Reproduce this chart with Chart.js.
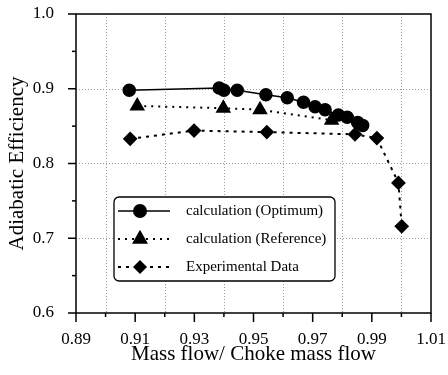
<!DOCTYPE html>
<html lang="en">
<head>
    <meta charset="UTF-8">
    <title>Adiabatic Efficiency</title>
    <script src="https://cdn.jsdelivr.net/npm/chart.js"></script>
    <style>
        body { margin: 0; background: #ffffff; }
        #chartContainer { width: 448px; height: 375px; }
    </style>
</head>
<body>
    <div id="chartContainer">
        <canvas id="myChart"></canvas>
    </div>

    <script>
        // data
        const optX = [0.908, 0.9384, 0.940, 0.9445, 0.9542, 0.9614, 0.9669, 0.9708, 0.9742, 0.9787, 0.9817, 0.9852, 0.9869];
        const optY = [0.898, 0.901, 0.898, 0.898, 0.892, 0.888, 0.882, 0.876, 0.872, 0.865, 0.862, 0.855, 0.851];
        const refX = [0.9107, 0.9398, 0.9522, 0.9764];
        const refY = [0.877, 0.874, 0.872, 0.858];
        const expX = [0.9083, 0.9299, 0.9545, 0.9843, 0.9917, 0.999, 1.0001];
        const expY = [0.833, 0.844, 0.842, 0.839, 0.834, 0.774, 0.716];
        const seriesNames = ['calculation (Optimum)', 'calculation (Reference)', 'Experimental Data'];
        const xTitle = 'Mass flow/ Choke mass flow';
        const yTitle = 'Adiabatic Efficiency';

        const serif = 'Liberation Serif';
        const pts = (xs, ys) => xs.map((x, i) => ({ x: x, y: ys[i] }));

        // grid, tick marks, frame and legend box
        const decor = {
            id: 'decor',
            beforeDatasetsDraw(chart) {
                const { ctx, chartArea: a, scales: { x, y } } = chart;
                ctx.save();
                ctx.strokeStyle = '#9a9a9a';
                ctx.lineWidth = 1;
                ctx.setLineDash([1, 2]);
                for (let v = 90; v <= 100; v += 2) {
                    const px = Math.round(x.getPixelForValue(v / 100)) + 0.5;
                    ctx.beginPath(); ctx.moveTo(px, a.top); ctx.lineTo(px, a.bottom); ctx.stroke();
                }
                for (let v = 7; v <= 9; v++) {
                    const py = Math.round(y.getPixelForValue(v / 10)) + 0.5;
                    ctx.beginPath(); ctx.moveTo(a.left, py); ctx.lineTo(a.right, py); ctx.stroke();
                }
                ctx.restore();
            },
            afterDraw(chart) {
                const { ctx, chartArea: a, scales: { x, y } } = chart;
                ctx.save();
                ctx.strokeStyle = '#000';
                ctx.lineWidth = 1.5;
                ctx.strokeRect(a.left, a.top, a.right - a.left, a.bottom - a.top);
                // x ticks
                for (let v = 89; v <= 101; v++) {
                    const px = x.getPixelForValue(v / 100);
                    const len = v % 2 === 1 ? 9 : 4;
                    ctx.beginPath(); ctx.moveTo(px, a.bottom); ctx.lineTo(px, a.bottom + len); ctx.stroke();
                }
                // y ticks
                for (let v = 60; v <= 100; v += 5) {
                    const py = y.getPixelForValue(v / 100);
                    const len = v % 10 === 0 ? 8 : 4;
                    ctx.beginPath(); ctx.moveTo(a.left, py); ctx.lineTo(a.left - len, py); ctx.stroke();
                }

                // legend
                const bx = a.left + 38, by = a.top + 183;
                const bw = 221, bh = 84;
                ctx.fillStyle = '#fff';
                ctx.lineWidth = 1.3;
                ctx.beginPath();
                ctx.roundRect(bx, by, bw, bh, 5);
                ctx.fill(); ctx.stroke();
                ctx.font = '15px "' + serif + '"';
                ctx.textBaseline = 'middle';
                chart.data.datasets.forEach((ds, i) => {
                    const ry = by + 14 + i * 28;
                    ctx.strokeStyle = '#000';
                    ctx.lineWidth = ds.borderWidth;
                    ctx.setLineDash(ds.borderDash || []);
                    ctx.beginPath(); ctx.moveTo(bx + 4, ry); ctx.lineTo(bx + 56, ry); ctx.stroke();
                    ctx.setLineDash([]);
                    drawMarker(ctx, ds.pointStyle, bx + 26, ry, ds.pointRadius + 1);
                    ctx.fillStyle = '#000';
                    ctx.fillText(ds.label, bx + 72, ry);
                });
                ctx.restore();
            }
        };

        function drawMarker(ctx, style, cx, cy, r) {
            ctx.fillStyle = '#000';
            ctx.beginPath();
            if (style === 'circle') {
                ctx.arc(cx, cy, r, 0, Math.PI * 2);
            } else if (style === 'triangle') {
                ctx.moveTo(cx, cy - r * 1.15);
                ctx.lineTo(cx + r, cy + r * 0.6);
                ctx.lineTo(cx - r, cy + r * 0.6);
                ctx.closePath();
            } else {
                ctx.moveTo(cx, cy - r); ctx.lineTo(cx + r, cy);
                ctx.lineTo(cx, cy + r); ctx.lineTo(cx - r, cy);
                ctx.closePath();
            }
            ctx.fill();
        }

        const noPad = (s) => { s.paddingTop = 0; s.paddingBottom = 0; s.paddingLeft = 0; s.paddingRight = 0; };

        const ctx = document.getElementById('myChart').getContext('2d');
        let myChart = new Chart(ctx, {
            type: 'scatter',
            data: {
                datasets: [{
                    label: seriesNames[0],
                    data: pts(optX, optY),
                    showLine: true,
                    borderColor: '#000',
                    backgroundColor: '#000',
                    borderWidth: 1.5,
                    pointStyle: 'circle',
                    pointRadius: 6,
                    tension: 0
                }, {
                    label: seriesNames[1],
                    data: pts(refX, refY),
                    showLine: true,
                    borderColor: '#000',
                    backgroundColor: '#000',
                    borderWidth: 2,
                    borderDash: [2, 5],
                    pointStyle: 'triangle',
                    pointRadius: 7,
                    tension: 0
                }, {
                    label: seriesNames[2],
                    data: pts(expX, expY),
                    showLine: true,
                    borderColor: '#000',
                    backgroundColor: '#000',
                    borderWidth: 2,
                    borderDash: [3, 5],
                    pointStyle: 'rectRot',
                    pointRadius: 6,
                    tension: 0
                }]
            },
            options: {
                responsive: true,
                maintainAspectRatio: false,
                animation: false,
                layout: { padding: { top: 14, right: 17, left: 0, bottom: 0 } },
                plugins: { legend: { display: false }, tooltip: { enabled: false } },
                scales: {
                    x: {
                        type: 'linear',
                        min: 0.89,
                        max: 1.01,
                        grid: { display: false, drawTicks: false },
                        border: { display: false },
                        afterFit: (s) => { s.height = 62; noPad(s); },
                        ticks: {
                            stepSize: 0.01,
                            padding: 16,
                            maxRotation: 0,
                            autoSkip: false,
                            color: '#000',
                            font: { family: serif, size: 17 },
                            callback: (v) => Math.round(v * 100) % 2 === 1 ? v.toFixed(2) : ''
                        },
                        title: {
                            display: true,
                            text: xTitle,
                            color: '#000',
                            font: { family: serif, size: 21 },
                            padding: { top: 0, bottom: 8 }
                        }
                    },
                    y: {
                        min: 0.6,
                        max: 1.0,
                        grid: { display: false, drawTicks: false },
                        border: { display: false },
                        afterFit: (s) => { s.width = 76; noPad(s); },
                        ticks: {
                            stepSize: 0.05,
                            padding: 22,
                            autoSkip: false,
                            color: '#000',
                            font: { family: serif, size: 17 },
                            callback: (v) => Math.round(v * 100) % 10 === 0 ? v.toFixed(1) : ''
                        },
                        title: {
                            display: true,
                            text: yTitle,
                            color: '#000',
                            font: { family: serif, size: 21 },
                            padding: { top: 5, bottom: 0 }
                        }
                    }
                }
            },
            plugins: [decor]
        });
    </script>
</body>
</html>
